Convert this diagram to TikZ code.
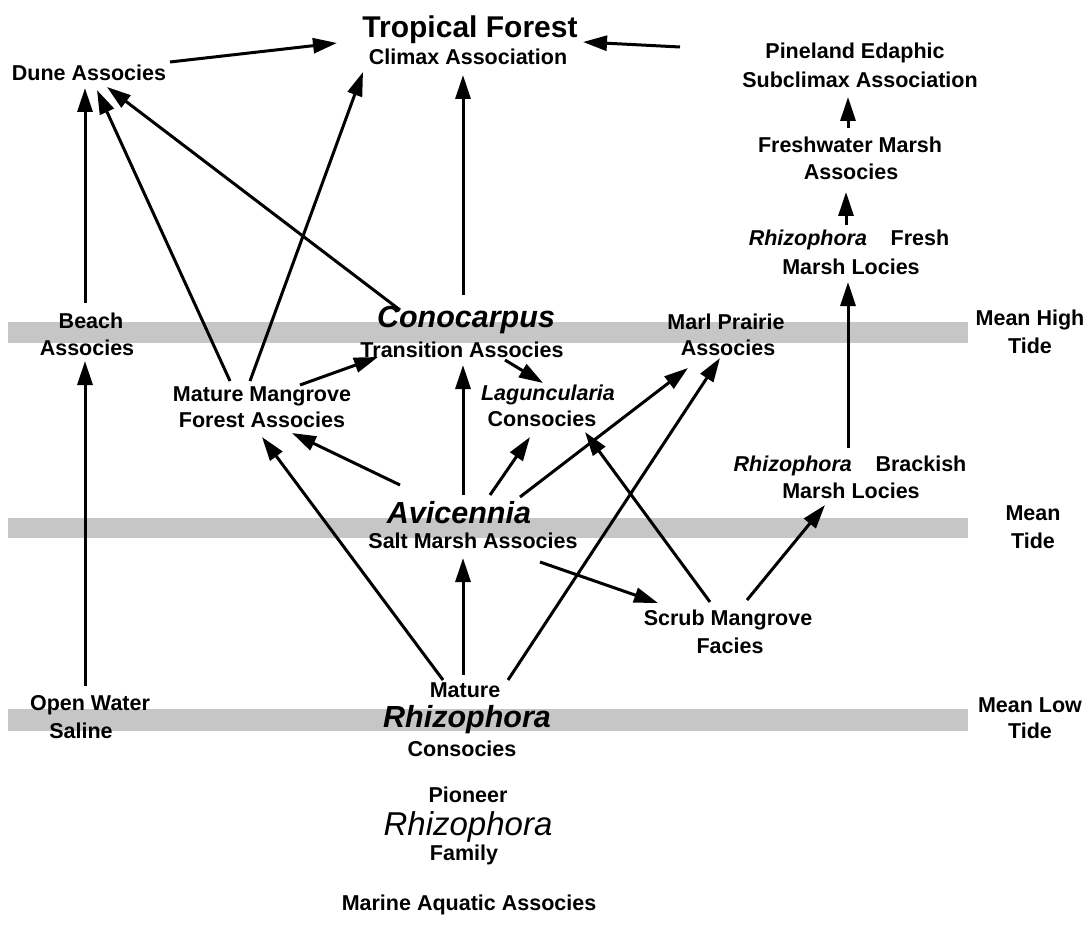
\documentclass[tikz,border=0pt]{standalone}
\usepackage{fontspec}
\setmainfont{Liberation Sans}
\usetikzlibrary{arrows.meta}
\begin{document}
\begin{tikzpicture}[x=1pt,y=-1pt,
  lab/.style={font=\fontsize{21.5}{24}\selectfont\bfseries, inner sep=0pt},
  big/.style={font=\fontsize{30.5}{33}\selectfont\bfseries\itshape, inner sep=0pt},
  band/.style={fill=gray!45, draw=none},
  arr/.style={line width=3pt, -{Triangle[length=24pt,width=15pt]}}]
\useasboundingbox (0,0) rectangle (1091,925);
% tide bands
\fill[band] (8,322) rectangle (968,343);
\fill[band] (8,518) rectangle (968,538);
\fill[band] (8,709) rectangle (968,731);
% labels
\node[lab] (dune) at (89,73) {Dune Associes};
\node[font=\fontsize{30}{32}\selectfont\bfseries, inner sep=0pt] (trop1) at (470,30) {Tropical Forest};
\node[lab] (trop2) at (468,57) {Climax Association};
\node[lab] (pine1) at (855,53) {Pineland Edaphic};
\node[lab] (pine2) at (860,80) {Subclimax Association};
\node[lab] (fresh1) at (850,145) {Freshwater Marsh};
\node[lab] (fresh2) at (851,172) {Associes};
\node[lab] (rfm1) at (849,240) {\itshape Rhizophora\upshape\hspace{1.1em}Fresh};
\node[lab] (rfm2) at (851,267) {Marsh Locies};
\node[lab] (beach1) at (91,321) {Beach};
\node[lab] (beach2) at (87,348) {Associes};
\node[big] (cono1) at (466,320) {Conocarpus};
\node[lab] (cono2) at (462,350) {Transition Associes};
\node[lab] (marl1) at (726,322) {Marl Prairie};
\node[lab] (marl2) at (728,348) {Associes};
\node[lab] (mm1) at (262,396) {Mature Mangrove};
\node[lab] (mm2) at (262,420) {Forest Associes};
\node[lab] (lag1) at (548,395) {\itshape Laguncularia};
\node[lab] (lag2) at (542,419) {Consocies};
\node[lab] (rbm1) at (850,466) {\itshape Rhizophora\upshape\hspace{1.1em}Brackish};
\node[lab] (rbm2) at (851,491) {Marsh Locies};
\node[big] (avi1) at (459,513) {Avicennia};
\node[lab] (avi2) at (473,541) {Salt Marsh Associes};
\node[lab] (scrub1) at (728,620) {Scrub Mangrove};
\node[lab] (scrub2) at (730,646) {Facies};
\node[lab] (open1) at (90,705) {Open Water};
\node[lab] (open2) at (81,731) {Saline};
\node[lab] (mr1) at (465,690) {Mature};
\node[big] (mr2) at (467,720) {Rhizophora};
\node[lab] (mr3) at (462,749) {Consocies};
\node[lab] (pr1) at (468,795) {Pioneer};
\node[font=\fontsize{33}{35}\selectfont\itshape, inner sep=0pt] (pr2) at (468,827) {Rhizophora};
\node[lab] (pr3) at (464,855) {Family};
\node[lab] (marine) at (469,905) {Marine Aquatic Associes};
\node[lab] (mht1) at (1030,320) {Mean High};
\node[lab] (mht2) at (1030,346) {Tide};
\node[lab] (mt1) at (1033,513) {Mean};
\node[lab] (mt2) at (1033,541) {Tide};
\node[lab] (mlt1) at (1030,705) {Mean Low};
\node[lab] (mlt2) at (1030,731) {Tide};
% connectors
\draw[arr] ([shift={(81,-11)}]dune.center) -- ([shift={(-133,13)}]trop1.center);
\draw[arr] ([shift={(-175,-6)}]pine1.center) -- ([shift={(113,12)}]trop1.center);
\draw[arr] ([shift={(-6,-18)}]beach1.center) -- ([shift={(-4,15)}]dune.center);
\draw[arr] ([shift={(-32,-15)}]mm1.center) -- ([shift={(8,17)}]dune.center);
\draw[arr] ([shift={(-66,-10)}]cono1.center) -- ([shift={(18,14)}]dune.center);
\draw[arr] ([shift={(-12,-15)}]mm1.center) -- ([shift={(-105,15)}]trop2.center);
\draw[arr] ([shift={(-3,-25)}]cono1.center) -- ([shift={(-5,18)}]trop2.center);
\draw[arr] ([shift={(-2,-17)}]fresh1.center) -- ([shift={(-12,17)}]pine2.center);
\draw[arr] ([shift={(-3,-15)}]rfm1.center) -- ([shift={(-5,20)}]fresh2.center);
\draw[arr] ([shift={(-2,-18)}]rbm1.center) -- ([shift={(-3,15)}]rfm2.center);
\draw[arr] ([shift={(-5,-19)}]open1.center) -- ([shift={(-2,13)}]beach2.center);
\draw[arr] ([shift={(38,-11)}]mm1.center) -- ([shift={(-84,7)}]cono2.center);
\draw[arr] ([shift={(43,10)}]cono2.center) -- ([shift={(-5,-12)}]lag1.center);
\draw[arr] ([shift={(4,-18)}]avi1.center) -- ([shift={(1,15)}]cono2.center);
\draw[arr] ([shift={(-59,-28)}]avi1.center) -- ([shift={(30,13)}]mm2.center);
\draw[arr] ([shift={(31,-18)}]avi1.center) -- ([shift={(-12,18)}]lag2.center);
\draw[arr] ([shift={(61,-16)}]avi1.center) -- ([shift={(-40,20)}]marl2.center);
\draw[arr] ([shift={(43,-10)}]mr1.center) -- ([shift={(-8,10)}]marl2.center);
\draw[arr] ([shift={(-22,-10)}]mr1.center) -- ([shift={(0,17)}]mm2.center);
\draw[arr] ([shift={(-2,-15)}]mr1.center) -- ([shift={(-10,17)}]avi2.center);
\draw[arr] ([shift={(67,21)}]avi2.center) -- ([shift={(-70,-17)}]scrub1.center);
\draw[arr] ([shift={(-18,-18)}]scrub1.center) -- ([shift={(43,13)}]lag2.center);
\draw[arr] ([shift={(19,-20)}]scrub1.center) -- ([shift={(-26,14)}]rbm2.center);
\end{tikzpicture}
\end{document}
